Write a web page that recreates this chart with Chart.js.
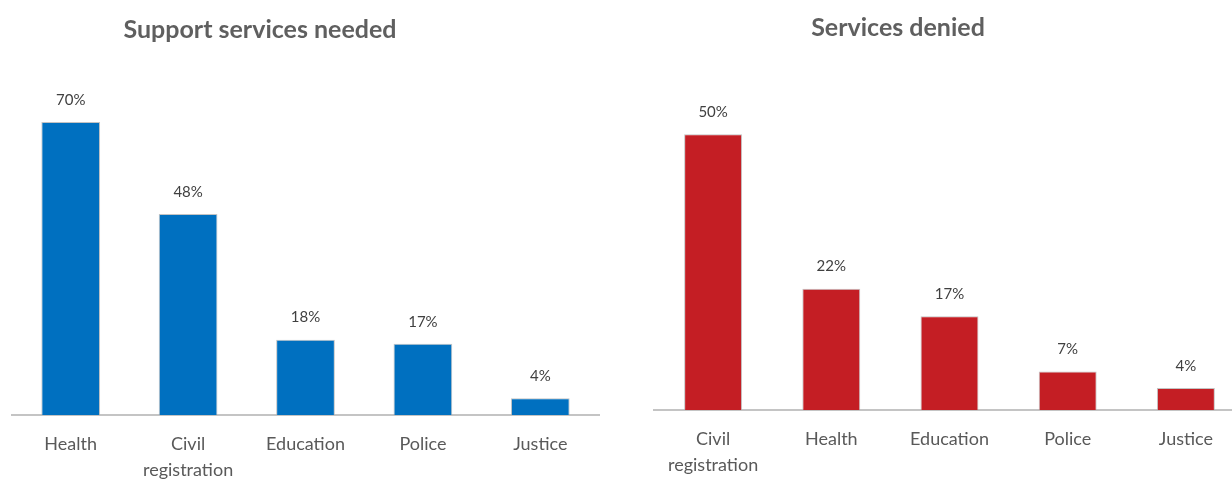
<!DOCTYPE html>
<html>
<head>
<meta charset="utf-8">
<script src="https://cdn.jsdelivr.net/npm/chart.js@4/dist/chart.umd.min.js"></script>
<style>
  html, body { margin: 0; padding: 0; background: #fff; overflow: hidden; }
  body { width: 1232px; height: 479px; position: relative; }
  .box { position: absolute; top: 0; height: 479px; }
  #boxNeeded { left: 0; width: 616px; }
  #boxDenied { left: 616px; width: 640px; }
</style>
</head>
<body>
<div class="box" id="boxNeeded"><canvas id="chartNeeded"></canvas></div>
<div class="box" id="boxDenied"><canvas id="chartDenied"></canvas></div>
<script>
// data
const neededTitle = 'Support services needed';
const neededLabels = ['Health', ['Civil', 'registration'], 'Education', 'Police', 'Justice'];
const neededValues = [70, 48, 18, 17, 4];

const deniedTitle = 'Services denied';
const deniedLabels = [['Civil', 'registration'], 'Health', 'Education', 'Police', 'Justice'];
const deniedValues = [50, 22, 17, 7, 4];

Chart.defaults.font.family = "Lato, 'Open Sans', sans-serif";
Chart.defaults.color = '#595959';

// title drawn by hand so it can sit off-centre like the original
const titlePlugin = {
    id: 'sideTitle',
    afterDraw(chart, args, opts) {
        const ctx = chart.ctx;
        ctx.save();
        ctx.font = "bold 25px Lato, sans-serif";
        ctx.fillStyle = '#5f5f5f';
        ctx.textAlign = 'center';
        ctx.textBaseline = 'middle';
        ctx.fillText(opts.text, opts.x, opts.y);
        ctx.restore();
    }
};

// percent labels above each bar
const valueLabels = {
    id: 'valueLabels',
    afterDatasetsDraw(chart) {
        const ctx = chart.ctx;
        const meta = chart.getDatasetMeta(0);
        const vals = chart.data.datasets[0].data;
        ctx.save();
        ctx.font = "15px Lato, sans-serif";
        ctx.fillStyle = '#404040';
        ctx.textAlign = 'center';
        ctx.textBaseline = 'middle';
        meta.data.forEach((bar, i) => {
            ctx.fillText(vals[i] + '%', bar.x, bar.y - 22);
        });
        ctx.restore();
    }
};

function makeChart(id, labels, values, color, cfg) {
    return new Chart(document.getElementById(id), {
        type: 'bar',
        data: {
            labels: labels,
            datasets: [{
                data: values,
                backgroundColor: color,
                borderColor: 'rgba(170,170,170,0.7)',
                borderWidth: 1,
                categoryPercentage: 1,
                barPercentage: cfg.barPct
            }]
        },
        options: {
            responsive: true,
            maintainAspectRatio: false,
            animation: false,
            layout: { padding: cfg.padding },
            plugins: {
                legend: { display: false },
                tooltip: { enabled: false },
                sideTitle: { text: cfg.title, x: cfg.titleX, y: cfg.titleY }
            },
            scales: {
                x: {
                    grid: { display: false, drawTicks: false },
                    border: { display: true, color: '#c4c4c4', width: 2 },
                    ticks: {
                        padding: 17,
                        maxRotation: 0,
                        autoSkip: false,
                        color: '#595959',
                        font: { size: 18, lineHeight: 1.4 }
                    },
                    afterFit: (scale) => { scale.height = cfg.axisH; }
                },
                y: {
                    display: false,
                    min: 0,
                    max: cfg.yMax
                }
            }
        },
        plugins: [titlePlugin, valueLabels]
    });
}

makeChart('chartNeeded', neededLabels, neededValues, '#0070C0', {
    title: neededTitle, titleX: 260, titleY: 30,
    padding: { left: 12, right: 17, top: 80, bottom: 0 },
    axisH: 64, yMax: 80, barPct: 0.5
});

makeChart('chartDenied', deniedLabels, deniedValues, '#C41E24', {
    title: deniedTitle, titleX: 282, titleY: 28,
    padding: { left: 38, right: 11, top: 79, bottom: 0 },
    axisH: 69, yMax: 60, barPct: 0.49
});
</script>
</body>
</html>
